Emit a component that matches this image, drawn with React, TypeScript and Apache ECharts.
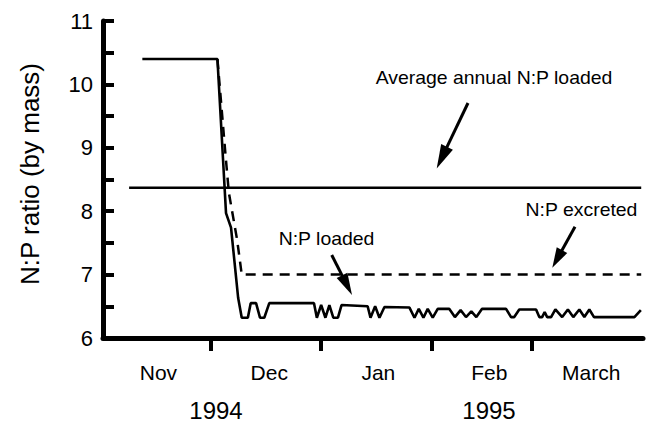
import { useEffect, useRef } from "react";
import * as echarts from "echarts";

const FONT = "'Liberation Sans', Arial, Helvetica, sans-serif";

const monthLabels = ["Nov", "Dec", "Jan", "Feb", "March"];
const monthLabelDays = [15.5, 46.5, 77, 108, 136.5];
const monthBoundaryDays = [30, 61, 92, 120];
const yearLabels = ["1994", "1995"];
const yTickLabels = [6, 7, 8, 9, 10, 11];

// N:P loaded (days since 1 Nov 1994)
const loadedDays = [
  11, 32, 34.4, 35.8, 37.8, 38.8, 40.5, 41.3, 42.8, 43.9, 45.1, 46.5, 59.0, 59.8, 61.0, 62.2, 63.3,
  64.4, 65.7, 66.7, 74.0, 74.8, 76.1, 77.3, 78.7, 85.7, 87.1, 88.3, 89.6, 90.8, 92.2, 93.6, 96.8,
  98.4, 100, 101.5, 103, 104.4, 106, 112.7, 114.1, 115, 116.4, 121.1, 122, 122.8, 123.5, 124.2,
  125.3, 126.5, 128.4, 130, 131.5, 133.2, 134.6, 136, 137.3, 148.6, 150.4,
];
const loadedValues = [
  10.4, 10.4, 7.97, 7.74, 6.63, 6.32, 6.32, 6.55, 6.55, 6.32, 6.32, 6.55, 6.55, 6.32, 6.52, 6.32,
  6.52, 6.32, 6.32, 6.52, 6.5, 6.32, 6.5, 6.32, 6.49, 6.48, 6.32, 6.46, 6.32, 6.46, 6.32, 6.46,
  6.46, 6.33, 6.44, 6.33, 6.42, 6.33, 6.46, 6.46, 6.33, 6.33, 6.45, 6.45, 6.33, 6.33, 6.41, 6.33,
  6.33, 6.45, 6.33, 6.45, 6.33, 6.45, 6.33, 6.45, 6.33, 6.33, 6.44,
];

// N:P excreted
const excretedDays = [32, 34.3, 35.2, 37.5, 38.8, 150.5];
const excretedValues = [10.4, 8.86, 8.29, 7.55, 7.0, 7.0];

// Average annual N:P loaded
const averageDays = [7.3, 150.5];
const averageValues = [8.37, 8.37];

const zip = (xs: number[], ys: number[]) => xs.map((x, i) => [x, ys[i]]);

function arrow(x1: number, y1: number, x2: number, y2: number, headLen: number, headW: number) {
  const dx = x2 - x1;
  const dy = y2 - y1;
  const len = Math.hypot(dx, dy);
  const ux = dx / len;
  const uy = dy / len;
  const bx = x2 - ux * headLen;
  const by = y2 - uy * headLen;
  const px = -uy;
  const py = ux;
  return [
    {
      type: "line",
      shape: { x1, y1, x2: bx + ux * 2, y2: by + uy * 2 },
      style: { stroke: "#000", lineWidth: 3 },
    },
    {
      type: "polygon",
      shape: {
        points: [
          [x2, y2],
          [bx + (px * headW) / 2, by + (py * headW) / 2],
          [bx - (px * headW) / 2, by - (py * headW) / 2],
        ],
      },
      style: { fill: "#000" },
    },
  ];
}

function label(text: string, x: number, y: number, fontSize: number, scaleX = 1, rotation = 0) {
  return {
    type: "text",
    x,
    y,
    scaleX,
    rotation,
    style: {
      text,
      fontSize,
      fontFamily: FONT,
      fill: "#000",
      align: "center",
      verticalAlign: "middle",
      textAlign: "center",
      textVerticalAlign: "middle",
    },
  };
}

export default function App() {
  const ref = useRef<HTMLDivElement>(null);

  useEffect(() => {
    if (!ref.current) return;
    const chart = echarts.init(ref.current, null, { renderer: "svg" });
    const near = (a: number, b: number) => Math.abs(a - b) < 0.01;
    chart.setOption({
      animation: false,
      backgroundColor: "#fff",
      grid: { left: 103, right: 4, top: 21, bottom: 92 },
      xAxis: {
        type: "value",
        min: 0,
        max: 151,
        splitLine: { show: false },
        axisLine: { show: true, lineStyle: { color: "#000", width: 5 } },
        axisTick: {
          show: true,
          customValues: monthBoundaryDays,
          length: 13,
          lineStyle: { color: "#000", width: 4 },
        },
        axisLabel: {
          customValues: monthLabelDays,
          formatter: (v: number) => {
            const i = monthLabelDays.findIndex((d) => near(d, v));
            return i >= 0 ? monthLabels[i] : "";
          },
          fontSize: 21,
          fontFamily: FONT,
          color: "#000",
          margin: 24,
        },
      },
      yAxis: {
        type: "value",
        min: 6,
        max: 11,
        interval: 0.5,
        splitLine: { show: false },
        axisLine: { show: true, lineStyle: { color: "#000", width: 5 } },
        axisTick: {
          show: true,
          inside: true,
          length: 11,
          lineStyle: { color: "#000", width: 4 },
        },
        axisLabel: {
          formatter: (v: number) => (yTickLabels.some((t) => near(t, v)) ? String(v) : ""),
          fontSize: 22,
          fontFamily: FONT,
          color: "#000",
          margin: 10,
        },
      },
      series: [
        {
          name: "N:P loaded",
          type: "line",
          data: zip(loadedDays, loadedValues),
          showSymbol: false,
          lineStyle: { color: "#000", width: 2.6 },
          z: 4,
        },
        {
          name: "N:P excreted",
          type: "line",
          data: zip(excretedDays, excretedValues),
          showSymbol: false,
          lineStyle: { color: "#000", width: 2.5, type: [10, 7] },
          z: 3,
        },
        {
          name: "Average annual N:P loaded",
          type: "line",
          data: zip(averageDays, averageValues),
          showSymbol: false,
          lineStyle: { color: "#000", width: 2.5 },
          z: 3,
        },
      ],
      graphic: [
        label("N:P ratio (by mass)", 30, 174, 26, 1, Math.PI / 2),
        label(yearLabels[0], 216, 410, 24),
        label(yearLabels[1], 489, 410, 24),
        label("Average annual N:P loaded", 494, 78, 17.5, 1.11),
        label("N:P excreted", 581.5, 209.5, 17.5, 1.11),
        label("N:P loaded", 326.5, 239, 17.5, 1.11),
        ...arrow(468, 103, 436.7, 168.5, 24, 13),
        ...arrow(575, 226.7, 552.3, 267.7, 20, 12),
        ...arrow(331.7, 255, 352, 295, 22, 12),
      ],
    });
    return () => chart.dispose();
  }, []);

  return (
    <div
      ref={ref}
      style={{ position: "fixed", left: 0, top: 0, width: 647, height: 430, background: "#fff" }}
    />
  );
}
